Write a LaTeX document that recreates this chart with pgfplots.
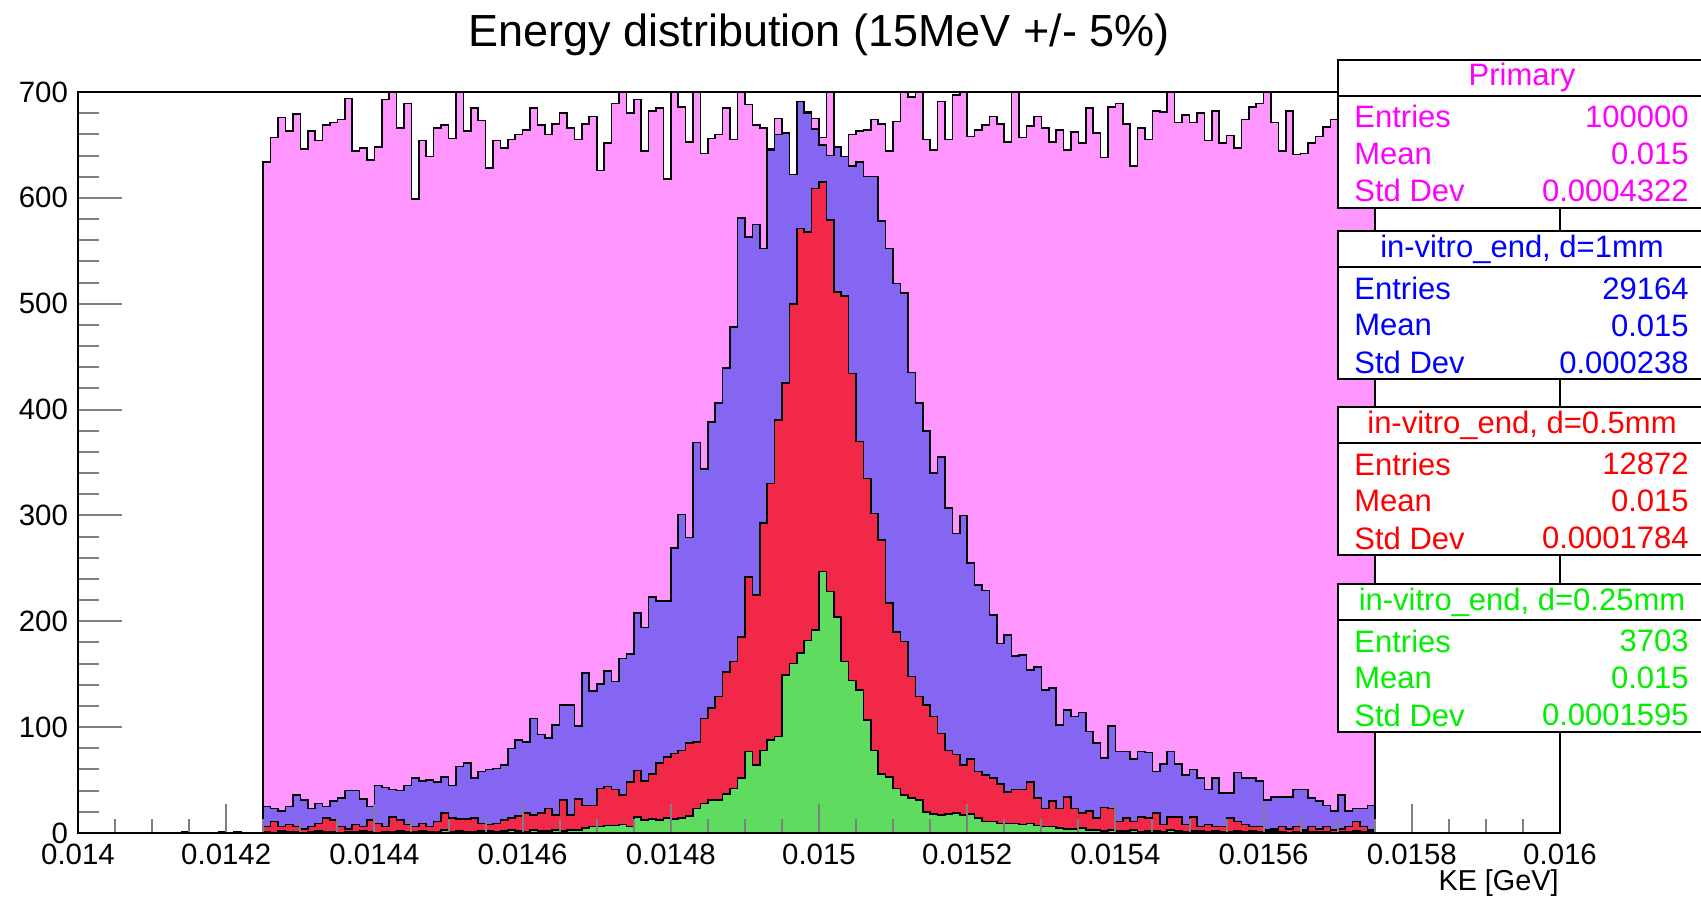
\documentclass[border=0pt]{standalone}
\usepackage{fontspec}
\setmainfont{Liberation Sans}
\usepackage{pgfplots}
\usepackage{pgfplotstable}
\pgfplotsset{compat=1.18}
\definecolor{pfill}{RGB}{255,150,255}
\definecolor{bfill}{RGB}{132,102,242}
\definecolor{rfill}{RGB}{242,40,72}
\definecolor{gfill}{RGB}{95,220,95}
\definecolor{rmag}{RGB}{255,0,255}
\definecolor{rblue}{RGB}{0,0,255}
\definecolor{rred}{RGB}{255,0,0}
\definecolor{rgreen}{RGB}{0,240,0}

% bin index x: 0 <-> 0.014 GeV, 1 bin = 0.00001 GeV
% p: Primary, b: d=1mm, r: d=0.5mm, g: d=0.25mm
\pgfplotstableread{
x p b r g
25 634 25 6 1
26 657 23 11 0
27 676 21 6 2
28 663 25 8 1
29 679 36 6 1
30 646 31 4 0
31 663 23 6 1
32 654 28 9 2
33 669 25 14 1
34 671 30 12 1
35 674 33 6 0
36 694 40 4 1
37 644 40 8 1
38 647 32 6 2
39 636 25 12 1
40 648 45 9 0
41 693 43 6 1
42 702 41 15 1
43 666 40 12 2
44 689 45 8 1
45 599 52 6 1
46 654 49 9 2
47 639 50 6 1
48 666 48 11 1
49 669 53 19 3
50 656 45 14 1
51 703 63 13 2
52 663 66 13 1
53 685 52 14 1
54 673 58 9 2
55 628 60 8 2
56 654 61 9 1
57 647 64 12 2
58 655 80 14 3
59 660 88 16 2
60 664 86 19 1
61 685 108 17 3
62 669 93 19 2
63 660 90 23 2
64 670 102 17 3
65 680 121 31 2
66 666 121 17 3
67 655 101 32 3
68 670 151 26 5
69 677 134 26 6
70 626 141 42 6
71 652 153 44 7
72 689 143 41 7
73 704 165 36 8
74 680 169 48 6
75 693 208 59 15
76 644 194 49 12
77 682 223 56 13
78 685 219 66 12
79 618 219 72 14
80 705 269 75 13
81 686 301 78 14
82 653 279 85 16
83 702 369 86 23
84 642 344 108 28
85 656 388 118 31
86 660 406 129 31
87 685 439 152 37
88 655 478 162 42
89 703 581 185 52
90 688 563 242 77
91 669 575 225 64
92 666 552 293 78
93 646 645 330 88
94 675 660 390 91
95 655 661 425 149
96 622 622 500 160
97 660 691 571 170
98 681 680 568 182
99 675 665 609 192
100 657 650 615 247
101 703 640 579 228
102 646 648 511 204
103 639 639 507 162
104 660 630 434 144
105 663 634 370 135
106 664 620 335 107
107 674 620 302 78
108 670 578 277 56
109 644 552 217 53
110 672 519 190 42
111 703 510 181 36
112 695 435 148 33
113 702 406 129 31
114 655 380 121 20
115 645 340 110 18
116 691 355 94 17
117 655 307 78 18
118 697 283 74 19
119 702 300 64 17
120 658 255 70 18
121 664 234 58 14
122 669 229 55 11
123 677 206 52 11
124 670 179 46 9
125 653 187 39 9
126 704 167 41 9
127 657 168 41 8
128 668 154 48 9
129 677 157 33 7
130 666 135 23 6
131 653 137 30 6
132 664 102 23 5
133 645 116 34 4
134 662 110 23 4
135 652 114 19 5
136 685 96 21 3
137 661 85 14 3
138 638 71 24 2
139 686 101 23 3
140 689 77 11 2
141 670 77 14 2
142 630 70 11 3
143 666 77 15 1
144 655 76 14 2
145 682 58 19 2
146 681 65 8 1
147 703 77 15 3
148 671 65 15 2
149 678 55 8 1
150 671 60 15 2
151 680 52 6 2
152 654 41 8 1
153 682 52 6 2
154 652 38 6 1
155 659 38 14 1
156 647 57 11 2
157 674 52 8 1
158 686 52 6 2
159 689 49 6 1
160 703 31 3 1
161 671 34 4 2
162 644 34 6 1
163 682 34 4 0
164 641 41 6 1
165 642 41 3 2
166 652 33 6 1
167 658 30 4 1
168 667 26 6 1
169 674 21 3 0
170 665 36 4 1
171 672 21 6 1
172 660 23 11 2
173 670 23 6 1
174 668 26 3 1
175 668 26 3 1
}\histdata

\newcommand{\statbox}[6]{%
  \fill[white] (668.8pt,#1pt) rectangle (851pt,#1pt-74pt);
  \draw[line width=1pt] (668.8pt,#1pt) rectangle (851pt,#1pt-74pt);
  \draw[line width=1pt] (668.8pt,#1pt-18pt) -- (851pt,#1pt-18pt);
  \node[text=#2, inner sep=0pt, anchor=center] at (761pt,#1pt-9pt) {#3};
  \node[text=#2, inner sep=0pt, anchor=west] at (677pt,#1pt-28.5pt) {Entries};
  \node[text=#2, inner sep=0pt, anchor=east] at (844.5pt,#1pt-28.5pt) {#4};
  \node[text=#2, inner sep=0pt, anchor=west] at (677pt,#1pt-47pt) {Mean};
  \node[text=#2, inner sep=0pt, anchor=east] at (844.5pt,#1pt-47pt) {#5};
  \node[text=#2, inner sep=0pt, anchor=west] at (677pt,#1pt-65.5pt) {Std Dev};
  \node[text=#2, inner sep=0pt, anchor=east] at (844.5pt,#1pt-65.5pt) {#6};
}

\begin{document}
\begin{tikzpicture}
\useasboundingbox (0,0) rectangle (850.5pt,448.5pt);
\begin{axis}[
  at={(39pt,32pt)}, anchor=south west,
  scale only axis, width=741pt, height=370.5pt,
  xmin=0, xmax=200, ymin=0, ymax=700,
  axis on top,
  axis line style={line width=1pt},
  tick align=inside, tick pos=left,
  xtick={0,20,40,60,80,100,120,140,160,180,200},
  xticklabels={0.014,0.0142,0.0144,0.0146,0.0148,0.015,0.0152,0.0154,0.0156,0.0158,0.016},
  ytick={0,100,200,300,400,500,600,700},
  yticklabels={0,100,200,300,400,500,600,700},
  minor x tick num=3, minor y tick num=4,
  xtick style={line width=1pt, /pgfplots/major tick length=14.5pt, /pgfplots/minor tick length=7pt},
  ytick style={line width=1pt, /pgfplots/major tick length=22pt, /pgfplots/minor tick length=10.3pt},
  tick label style={font=\fontsize{14.7}{17}\selectfont},
  xticklabel style={yshift=-2pt},
  yticklabel style={xshift=-1.5pt},
]
\addplot[const plot mark left, fill=pfill, draw=black, line width=0.8pt] table[x=x, y=p] {\histdata} \closedcycle;
\addplot[const plot mark left, fill=bfill, draw=black, line width=0.8pt] table[x=x, y=b] {\histdata} \closedcycle;
\addplot[fill=bfill, draw=black, line width=0.6pt] coordinates {(14,0) (14,1) (15,1) (15,0)} -- cycle;
\addplot[fill=bfill, draw=black, line width=0.6pt] coordinates {(19,0) (19,1) (20,1) (20,0)} -- cycle;
\addplot[fill=bfill, draw=black, line width=0.6pt] coordinates {(21,0) (21,1) (22,1) (22,0)} -- cycle;
\addplot[const plot mark left, fill=rfill, draw=black, line width=0.8pt] table[x=x, y=r] {\histdata} \closedcycle;
\addplot[const plot mark left, fill=gfill, draw=black, line width=0.8pt] table[x=x, y=g] {\histdata} \closedcycle;
\end{axis}
\node[anchor=center, inner sep=0pt] at (409.5pt,431pt) {\fontsize{22.5}{27}\selectfont Energy distribution (15MeV +/- 5\%)};
\node[anchor=east, inner sep=0pt] at (779.5pt,7pt) {\fontsize{14.4}{17}\selectfont KE [GeV]};
\begingroup
\fontsize{15.5}{18}\selectfont
\statbox{418.6}{rmag}{Primary}{100000}{0.015}{0.0004322}
\statbox{332.8}{rblue}{in-vitro\_end, d=1mm}{29164}{0.015}{0.000238}
\statbox{244.9}{rred}{in-vitro\_end, d=0.5mm}{12872}{0.015}{0.0001784}
\statbox{156.5}{rgreen}{in-vitro\_end, d=0.25mm}{3703}{0.015}{0.0001595}
\endgroup
\end{tikzpicture}
\end{document}
